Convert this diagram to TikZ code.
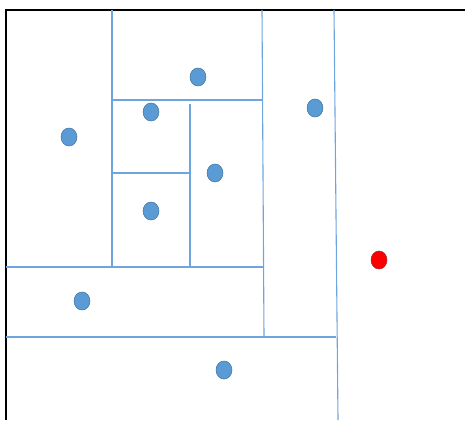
\documentclass[tikz,border=0pt]{standalone}
\usetikzlibrary{shapes.geometric}
\begin{document}
\begin{tikzpicture}[x=1pt,y=-1pt,
  frame/.style={black,line width=1.3pt},
  split/.style={draw={rgb,255:red,110;green,165;blue,222},line width=1.1pt},
  pt/.style={ellipse,draw={rgb,255:red,65;green,113;blue,156},line width=0.5pt,fill={rgb,255:red,91;green,155;blue,213},minimum width=16pt,minimum height=18pt,inner sep=0pt},
  redpt/.style={pt,fill=red,draw={rgb,255:red,160;green,40;blue,40}}]
\useasboundingbox (0,0) rectangle (465,420);
\coordinate (TL) at (6,10);
\coordinate (TR) at (465,10);
\coordinate (BL) at (6,420);
\draw[frame] (TR) -- (TL) -- (BL);
% splits
\coordinate (a1) at (112,10); \coordinate (a2) at (112,267);
\coordinate (b1) at (262,10); \coordinate (b2) at (264,337);
\coordinate (c1) at (334,10); \coordinate (c2) at (338,420);
\coordinate (d1) at (112,100); \coordinate (d2) at (263,100);
\coordinate (e1) at (190,104); \coordinate (e2) at (190,267);
\coordinate (f1) at (112,173); \coordinate (f2) at (190,173);
\coordinate (g1) at (6,267); \coordinate (g2) at (263,267);
\coordinate (h1) at (6,337); \coordinate (h2) at (336,337);
\draw[split] (a1) -- (a2);
\draw[split] (b1) -- (b2);
\draw[split] (c1) -- (c2);
\draw[split] (d1) -- (d2);
\draw[split] (e1) -- (e2);
\draw[split] (f1) -- (f2);
\draw[split] (g1) -- (g2);
\draw[split] (h1) -- (h2);
% points
\node[pt] (p1) at (198,77) {};
\node[pt] (p2) at (151,112) {};
\node[pt] (p3) at (69,137) {};
\node[pt] (p4) at (315,108) {};
\node[pt] (p5) at (215,173) {};
\node[pt] (p6) at (151,211) {};
\node[pt] (p7) at (82,301) {};
\node[pt] (p8) at (224,370) {};
\node[redpt] (q) at (379,260) {};
\end{tikzpicture}
\end{document}
